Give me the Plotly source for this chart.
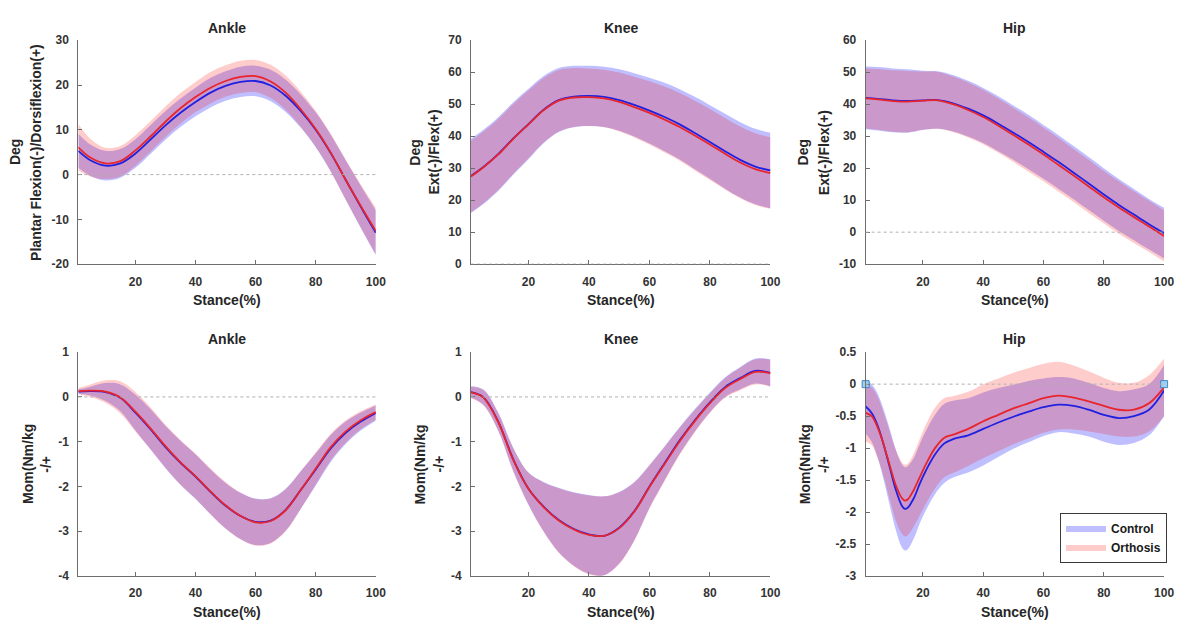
import plotly.graph_objects as go

# ---------------- data ----------------
STANCE = [1, 5, 10, 15, 20, 25, 30, 35, 40, 45, 50, 55, 60, 65, 70, 75, 80, 85, 90, 95, 100]
STANCE_HIP_MOM = [1, 3, 5, 7, 9, 11, 13, 14, 15, 17, 19, 21, 24, 27, 30, 35, 40, 45, 50, 55, 60, 65, 70, 75, 80, 85, 90, 95, 100]

# Ankle angle (deg)
ANKLE_ANG_CTRL_MEAN = [5.3, 3.2, 2.0, 2.5, 4.7, 7.8, 11.0, 13.8, 16.2, 18.3, 19.8, 20.7, 20.9, 19.9, 17.6, 14.2, 10.0, 4.8, -1.2, -7.2, -13.0]
ANKLE_ANG_CTRL_SD = [3.8, 3.5, 3.3, 3.2, 3.2, 3.2, 3.2, 3.2, 3.2, 3.3, 3.3, 3.4, 3.4, 3.5, 3.6, 3.7, 3.9, 4.1, 4.4, 4.7, 5.0]
ANKLE_ANG_ORTH_MEAN = [6.1, 3.8, 2.5, 3.0, 5.4, 8.5, 11.8, 14.8, 17.3, 19.4, 20.9, 21.8, 22.0, 20.8, 18.3, 14.6, 10.2, 4.9, -1.2, -7.0, -12.6]
ANKLE_ANG_ORTH_SD = [5.2, 4.2, 3.5, 3.4, 3.4, 3.4, 3.4, 3.4, 3.4, 3.5, 3.5, 3.6, 3.6, 3.7, 3.8, 3.9, 4.0, 4.2, 4.5, 4.8, 5.2]

# Knee angle (deg)
KNEE_ANG_CTRL_MEAN = [27.6, 30.3, 34.4, 39.3, 43.8, 48.3, 51.3, 52.4, 52.6, 52.3, 51.3, 49.8, 48.0, 46.0, 43.7, 41.0, 38.2, 35.3, 32.6, 30.5, 29.3]
KNEE_ANG_CTRL_SD = [11.6, 11.6, 11.5, 11.3, 11.0, 10.5, 10.0, 9.6, 9.4, 9.4, 9.6, 9.9, 10.3, 10.7, 11.0, 11.3, 11.5, 11.7, 11.8, 11.8, 11.8]
KNEE_ANG_ORTH_MEAN = [27.4, 30.2, 34.3, 39.2, 43.7, 48.1, 51.1, 52.1, 52.2, 51.8, 50.7, 49.1, 47.3, 45.2, 42.9, 40.2, 37.4, 34.5, 31.8, 29.7, 28.5]
KNEE_ANG_ORTH_SD = [11.2, 11.2, 11.1, 10.9, 10.6, 10.1, 9.6, 9.2, 9.0, 9.0, 9.2, 9.5, 9.9, 10.3, 10.6, 10.9, 11.1, 11.2, 11.2, 11.2, 11.2]

# Hip angle (deg)
HIP_ANG_CTRL_MEAN = [42.0, 41.7, 41.2, 41.0, 41.2, 41.3, 40.3, 38.6, 36.5, 33.9, 31.1, 28.2, 25.1, 21.9, 18.6, 15.2, 11.8, 8.5, 5.5, 2.5, -0.3]
HIP_ANG_CTRL_SD = [9.8, 9.9, 10.0, 9.9, 9.3, 9.0, 8.8, 8.7, 8.6, 8.6, 8.5, 8.5, 8.4, 8.4, 8.3, 8.3, 8.2, 8.1, 8.0, 7.9, 7.9]
HIP_ANG_ORTH_MEAN = [41.8, 41.5, 41.0, 40.8, 41.1, 41.2, 40.0, 38.2, 36.0, 33.3, 30.4, 27.4, 24.3, 21.0, 17.7, 14.3, 10.9, 7.7, 4.7, 1.8, -1.2]
HIP_ANG_ORTH_SD = [9.4, 9.5, 9.6, 9.6, 9.1, 8.9, 8.7, 8.6, 8.5, 8.5, 8.5, 8.5, 8.4, 8.4, 8.3, 8.3, 8.2, 8.2, 8.1, 8.0, 8.0]

# Ankle moment (Nm/kg)
ANKLE_MOM_CTRL_MEAN = [0.12, 0.13, 0.11, -0.02, -0.35, -0.72, -1.12, -1.47, -1.78, -2.12, -2.43, -2.66, -2.79, -2.76, -2.52, -2.08, -1.62, -1.15, -0.8, -0.55, -0.36]
ANKLE_MOM_CTRL_SD = [0.05, 0.1, 0.2, 0.3, 0.4, 0.45, 0.47, 0.49, 0.5, 0.5, 0.51, 0.52, 0.52, 0.5, 0.47, 0.42, 0.36, 0.3, 0.25, 0.2, 0.17]
ANKLE_MOM_ORTH_MEAN = [0.13, 0.14, 0.12, -0.01, -0.33, -0.7, -1.1, -1.46, -1.77, -2.11, -2.42, -2.66, -2.8, -2.77, -2.53, -2.08, -1.6, -1.12, -0.77, -0.52, -0.34]
ANKLE_MOM_ORTH_SD = [0.07, 0.14, 0.25, 0.36, 0.44, 0.47, 0.48, 0.5, 0.5, 0.51, 0.52, 0.52, 0.52, 0.5, 0.47, 0.42, 0.36, 0.3, 0.25, 0.2, 0.17]

# Knee moment (Nm/kg)
KNEE_MOM_CTRL_MEAN = [0.11, 0.0, -0.55, -1.4, -2.05, -2.45, -2.75, -2.95, -3.07, -3.1, -2.92, -2.55, -2.0, -1.48, -0.97, -0.52, -0.12, 0.22, 0.42, 0.58, 0.54]
KNEE_MOM_CTRL_SD = [0.13, 0.17, 0.2, 0.26, 0.36, 0.55, 0.72, 0.82, 0.88, 0.88, 0.8, 0.65, 0.48, 0.38, 0.3, 0.25, 0.22, 0.22, 0.25, 0.28, 0.3]
KNEE_MOM_ORTH_MEAN = [0.1, -0.01, -0.56, -1.41, -2.05, -2.46, -2.76, -2.96, -3.08, -3.1, -2.93, -2.56, -2.01, -1.5, -0.99, -0.54, -0.14, 0.2, 0.4, 0.56, 0.53]
KNEE_MOM_ORTH_SD = [0.13, 0.17, 0.2, 0.26, 0.36, 0.55, 0.72, 0.82, 0.88, 0.88, 0.8, 0.65, 0.48, 0.38, 0.3, 0.25, 0.22, 0.22, 0.25, 0.28, 0.3]

# Hip moment (Nm/kg)
HIP_MOM_CTRL_MEAN = [-0.35, -0.45, -0.65, -0.95, -1.3, -1.65, -1.9, -1.95, -1.93, -1.78, -1.55, -1.35, -1.1, -0.93, -0.86, -0.8, -0.7, -0.6, -0.51, -0.43, -0.36, -0.32, -0.34, -0.4, -0.48, -0.53, -0.5, -0.4, -0.1]
HIP_MOM_CTRL_SD = [0.42, 0.45, 0.5, 0.55, 0.6, 0.63, 0.65, 0.65, 0.65, 0.63, 0.62, 0.62, 0.62, 0.62, 0.6, 0.58, 0.57, 0.54, 0.5, 0.48, 0.45, 0.43, 0.43, 0.42, 0.42, 0.42, 0.42, 0.4, 0.4]
HIP_MOM_ORTH_MEAN = [-0.45, -0.5, -0.68, -0.95, -1.27, -1.58, -1.78, -1.82, -1.8, -1.65, -1.45, -1.25, -1.0, -0.84, -0.79, -0.7, -0.58, -0.48, -0.38, -0.3, -0.22, -0.18, -0.21, -0.27, -0.34, -0.4, -0.4, -0.3, -0.05]
HIP_MOM_ORTH_SD = [0.45, 0.45, 0.48, 0.5, 0.53, 0.55, 0.56, 0.56, 0.56, 0.57, 0.6, 0.62, 0.63, 0.62, 0.6, 0.58, 0.58, 0.57, 0.56, 0.55, 0.54, 0.53, 0.5, 0.47, 0.44, 0.42, 0.42, 0.44, 0.45]

# markers on hip moment zero line
HIP_MOM_MARK_X = [1, 100]
HIP_MOM_MARK_Y = [0, 0]

# tick labels
X_TICKS = [20, 40, 60, 80, 100]
X_TICK_TEXT = ["20", "40", "60", "80", "100"]
ANKLE_ANG_YTICKS = [-20, -10, 0, 10, 20, 30]
ANKLE_ANG_YTEXT = ["-20", "-10", "0", "10", "20", "30"]
KNEE_ANG_YTICKS = [0, 10, 20, 30, 40, 50, 60, 70]
KNEE_ANG_YTEXT = ["0", "10", "20", "30", "40", "50", "60", "70"]
HIP_ANG_YTICKS = [-10, 0, 10, 20, 30, 40, 50, 60]
HIP_ANG_YTEXT = ["-10", "0", "10", "20", "30", "40", "50", "60"]
MOM_YTICKS = [-4, -3, -2, -1, 0, 1]
MOM_YTEXT = ["-4", "-3", "-2", "-1", "0", "1"]
HIP_MOM_YTICKS = [-3, -2.5, -2, -1.5, -1, -0.5, 0, 0.5]
HIP_MOM_YTEXT = ["-3", "-2.5", "-2", "-1.5", "-1", "-0.5", "0", "0.5"]

GROUPS = ["Control", "Orthosis"]
TITLES = ["Ankle", "Knee", "Hip", "Ankle", "Knee", "Hip"]
Y_LABELS = [
    ("Deg", "Plantar Flexion(-)/Dorsiflexion(+)"),
    ("Deg", "Ext(-)/Flex(+)"),
    ("Deg", "Ext(-)/Flex(+)"),
    ("Mom(Nm/kg", "-/+"),
    ("Mom(Nm/kg", "-/+"),
    ("Mom(Nm/kg", "-/+"),
]
X_LABEL = "Stance(%)"

# ---------------- styling / layout ----------------
W, H = 1187, 630
FONT = "Liberation Sans, Arial, Helvetica, sans-serif"
BAND_COLORS = ["rgba(0,0,255,0.25)", "rgba(255,0,0,0.20)"]
LINE_COLORS = ["#2020e0", "#e8242c"]
AXIS_COLOR = "#6e6e6e"
TEXT_COLOR = "#262626"

# plot boxes in pixels: (left, right, top, bottom)
BOXES = [(79, 379, 34, 263), (475, 777, 34, 263), (873, 1174, 34, 263),
         (79, 379, 353, 582), (475, 777, 353, 582), (873, 1174, 353, 582)]
YLAB_X = [(15, 37), (419, 438), (810, 831), (28, 47), (424, 443), (812, 831)]


def px_x(p):
    return p / W


def px_y(p):
    return 1 - p / H


panels = [
    (STANCE, [(ANKLE_ANG_CTRL_MEAN, ANKLE_ANG_CTRL_SD), (ANKLE_ANG_ORTH_MEAN, ANKLE_ANG_ORTH_SD)], [-20, 30], ANKLE_ANG_YTICKS, ANKLE_ANG_YTEXT),
    (STANCE, [(KNEE_ANG_CTRL_MEAN, KNEE_ANG_CTRL_SD), (KNEE_ANG_ORTH_MEAN, KNEE_ANG_ORTH_SD)], [0, 70], KNEE_ANG_YTICKS, KNEE_ANG_YTEXT),
    (STANCE, [(HIP_ANG_CTRL_MEAN, HIP_ANG_CTRL_SD), (HIP_ANG_ORTH_MEAN, HIP_ANG_ORTH_SD)], [-10, 60], HIP_ANG_YTICKS, HIP_ANG_YTEXT),
    (STANCE, [(ANKLE_MOM_CTRL_MEAN, ANKLE_MOM_CTRL_SD), (ANKLE_MOM_ORTH_MEAN, ANKLE_MOM_ORTH_SD)], [-4, 1], MOM_YTICKS, MOM_YTEXT),
    (STANCE, [(KNEE_MOM_CTRL_MEAN, KNEE_MOM_CTRL_SD), (KNEE_MOM_ORTH_MEAN, KNEE_MOM_ORTH_SD)], [-4, 1], MOM_YTICKS, MOM_YTEXT),
    (STANCE_HIP_MOM, [(HIP_MOM_CTRL_MEAN, HIP_MOM_CTRL_SD), (HIP_MOM_ORTH_MEAN, HIP_MOM_ORTH_SD)], [-3, 0.5], HIP_MOM_YTICKS, HIP_MOM_YTEXT),
]

fig = go.Figure()
layout = dict(
    width=W, height=H, autosize=False,
    margin=dict(l=0, r=0, t=0, b=0, pad=0),
    paper_bgcolor="white", plot_bgcolor="white",
    font=dict(family=FONT, color=TEXT_COLOR),
    showlegend=True,
    legend=dict(
        x=px_x(1069), y=px_y(517), xanchor="left", yanchor="top",
        bgcolor="white", bordercolor="#3a3a3a", borderwidth=1,
        font=dict(family=FONT, size=12, color="#1a1a1a", weight="bold"),
        itemwidth=40, tracegroupgap=0, traceorder="normal",
    ),
)
annotations = []
shapes = []

for i, (xs, groups, yr, ytv, ytt) in enumerate(panels):
    n = i + 1
    xa = "x" if n == 1 else f"x{n}"
    ya = "y" if n == 1 else f"y{n}"
    l, r, t, b = BOXES[i]
    common_axis = dict(
        showgrid=False, zeroline=False, showline=True, linecolor=AXIS_COLOR, linewidth=1,
        ticks="inside", ticklen=4, tickwidth=1, tickcolor=AXIS_COLOR,
        tickfont=dict(family=FONT, size=12, color="#333333", weight="bold"),
        fixedrange=True,
    )
    layout[f"xaxis{'' if n == 1 else n}"] = dict(
        common_axis, domain=[px_x(l), px_x(r)], anchor=ya, range=[1, 100],
        tickmode="array", tickvals=X_TICKS, ticktext=X_TICK_TEXT, ticklabelstandoff=6,
    )
    layout[f"yaxis{'' if n == 1 else n}"] = dict(
        common_axis, domain=[px_y(b), px_y(t)], anchor=xa, range=yr,
        tickmode="array", tickvals=ytv, ticktext=ytt, ticklabelstandoff=6,
    )

    # bands
    for g, (mean, sd) in enumerate(groups):
        lower = [m - s for m, s in zip(mean, sd)]
        upper = [m + s for m, s in zip(mean, sd)]
        fig.add_trace(go.Scatter(x=xs, y=lower, mode="lines", line=dict(width=0, shape="spline", smoothing=1.0),
                                 showlegend=False, hoverinfo="skip", xaxis=xa, yaxis=ya))
        fig.add_trace(go.Scatter(x=xs, y=upper, mode="lines", fill="tonexty", fillcolor=BAND_COLORS[g],
                                 line=dict(width=0, shape="spline", smoothing=1.0),
                                 name=GROUPS[g], legendgroup=GROUPS[g], showlegend=(n == 6),
                                 hoverinfo="skip", xaxis=xa, yaxis=ya))
    # mean lines
    for g, (mean, sd) in enumerate(groups):
        fig.add_trace(go.Scatter(x=xs, y=mean, mode="lines", line=dict(color=LINE_COLORS[g], width=1.8, shape="spline", smoothing=1.0),
                                 name=GROUPS[g] + " mean", showlegend=False, xaxis=xa, yaxis=ya))

    # zero reference line
    shapes.append(dict(type="line", xref=f"{xa} domain", yref=ya, x0=0, x1=1, y0=0, y1=0,
                       line=dict(color="#b0b0b0", width=1, dash="dot"), layer="above"))

    # titles
    annotations.append(dict(text=TITLES[i], x=px_x((l + r) / 2), y=px_y(t - 13), xref="paper", yref="paper",
                            showarrow=False, xanchor="center", yanchor="middle",
                            font=dict(family=FONT, size=14, color=TEXT_COLOR, weight="bold")))
    annotations.append(dict(text=X_LABEL, x=px_x((l + r) / 2), y=px_y(b + 37), xref="paper", yref="paper",
                            showarrow=False, xanchor="center", yanchor="middle",
                            font=dict(family=FONT, size=14, color=TEXT_COLOR, weight="bold")))
    for k, line_txt in enumerate(Y_LABELS[i]):
        annotations.append(dict(text=line_txt, x=px_x(YLAB_X[i][k]), y=px_y((t + b) / 2), xref="paper", yref="paper",
                                showarrow=False, xanchor="center", yanchor="middle", textangle=-90,
                                font=dict(family=FONT, size=14, color=TEXT_COLOR, weight="bold")))

# markers on the hip moment panel
fig.add_trace(go.Scatter(x=HIP_MOM_MARK_X, y=HIP_MOM_MARK_Y, mode="markers",
                         marker=dict(symbol="square", size=7, color="#9fd0f0", line=dict(color="#3f88c5", width=1)),
                         showlegend=False, cliponaxis=False, hoverinfo="skip", xaxis="x6", yaxis="y6"))

layout["annotations"] = annotations
layout["shapes"] = shapes
fig.update_layout(**layout)
fig.write_html(
    "out.html",
    config={"displayModeBar": False, "staticPlot": False},
    post_script="document.body.style.margin='0';document.body.style.padding='0';document.body.style.overflow='hidden';",
)
